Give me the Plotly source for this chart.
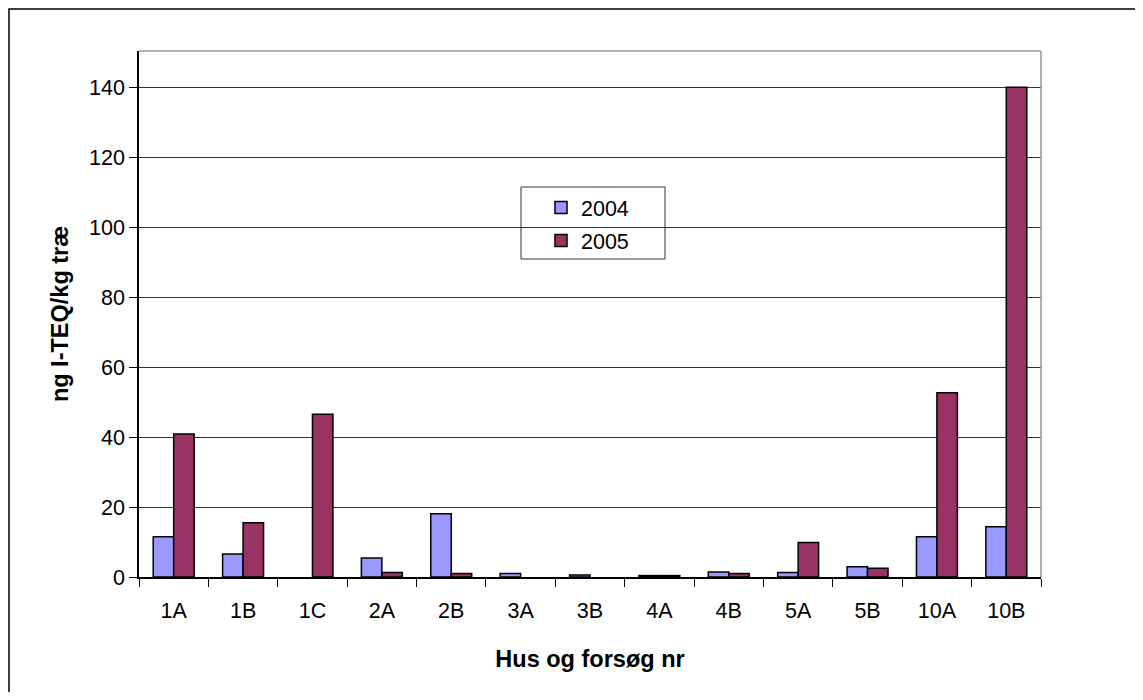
import plotly.graph_objects as go

categories = ["1A", "1B", "1C", "2A", "2B", "3A", "3B", "4A", "4B", "5A", "5B", "10A", "10B"]
values_2004 = [11.5, 6.6, None, 5.4, 18.1, 1.0, 0.6, 0.4, 1.4, 1.3, 2.9, 11.5, 14.4]
values_2005 = [40.9, 15.5, 46.5, 1.3, 1.0, None, None, 0.4, 1.0, 9.9, 2.5, 52.7, 140.0]
series_names = ["2004", "2005"]
series_colors = ["#9999FF", "#993366"]
y_ticks = [0, 20, 40, 60, 80, 100, 120, 140]

font_family = "Liberation Sans, Arial, sans-serif"

fig = go.Figure()
for name, vals, col in zip(series_names, [values_2004, values_2005], series_colors):
    fig.add_trace(go.Bar(
        x=categories, y=vals, name=name, legendgroup=name,
        marker=dict(color=col, line=dict(color="#000000", width=1.5)),
    ))

# figure sized to fit inside the page's 8px body margin
W, H = 1127, 684
OFF = 8  # page offset of the figure
L, T = 139 - OFF, 51 - OFF
R = W - (1041 - OFF)
B = H - (577 - OFF)
pw = W - L - R
ph = H - T - B


def px_x(page_x):
    return (page_x - OFF - L) / pw


def px_y(page_y):
    return (H - B - (page_y - OFF)) / ph


fig.update_layout(
    width=W, height=H,
    margin=dict(l=L, r=R, t=T, b=B, pad=0),
    paper_bgcolor="white", plot_bgcolor="white",
    barmode="group", bargap=0.41, bargroupgap=0,
    font=dict(family=font_family, size=21.5, color="#000000"),
    showlegend=True,
    legend=dict(
        x=px_x(541), y=px_y(187), xanchor="left", yanchor="top",
        bgcolor="rgba(0,0,0,0)", borderwidth=0,
        font=dict(size=21.5), itemwidth=30, tracegroupgap=2,
    ),
    xaxis=dict(
        type="category", tickson="boundaries", ticks="outside", ticklen=8,
        tickcolor="#000000", showline=True, linecolor="#000000", linewidth=1.5,
        showgrid=False, mirror=False, ticklabelstandoff=13,
        title=dict(text="<b>Hus og forsøg nr</b>", font=dict(size=23.5), standoff=29),
        tickfont=dict(size=21.5),
    ),
    yaxis=dict(
        range=[0, 150.4], tickvals=y_ticks, ticks="outside", ticklen=8,
        tickcolor="#000000", showline=True, linecolor="#000000", linewidth=1.5,
        showgrid=True, gridcolor="#333333", gridwidth=1, zeroline=False,
        title=dict(text="<b>ng I-TEQ/kg træ</b>", font=dict(size=23.5), standoff=14),
        tickfont=dict(size=21.5),
    ),
    shapes=[
        # plot-area top and right edges (gray)
        dict(type="line", xref="paper", yref="paper", x0=0, x1=1, y0=1, y1=1,
             line=dict(color="#999999", width=1.5)),
        dict(type="line", xref="paper", yref="paper", x0=1, x1=1, y0=0, y1=1,
             line=dict(color="#999999", width=1.5)),
        # legend box
        dict(type="rect", xref="paper", yref="paper",
             x0=px_x(521), x1=px_x(665), y0=px_y(259), y1=px_y(187),
             line=dict(color="#333333", width=1), fillcolor="white", layer="below"),
        # outer chart border
        dict(type="rect", xref="paper", yref="paper",
             x0=px_x(9), x1=px_x(1170),
             y0=px_y(720), y1=px_y(9),
             line=dict(color="#000000", width=1.5), fillcolor="rgba(0,0,0,0)"),
    ],
)

fig.write_html("out.html")
